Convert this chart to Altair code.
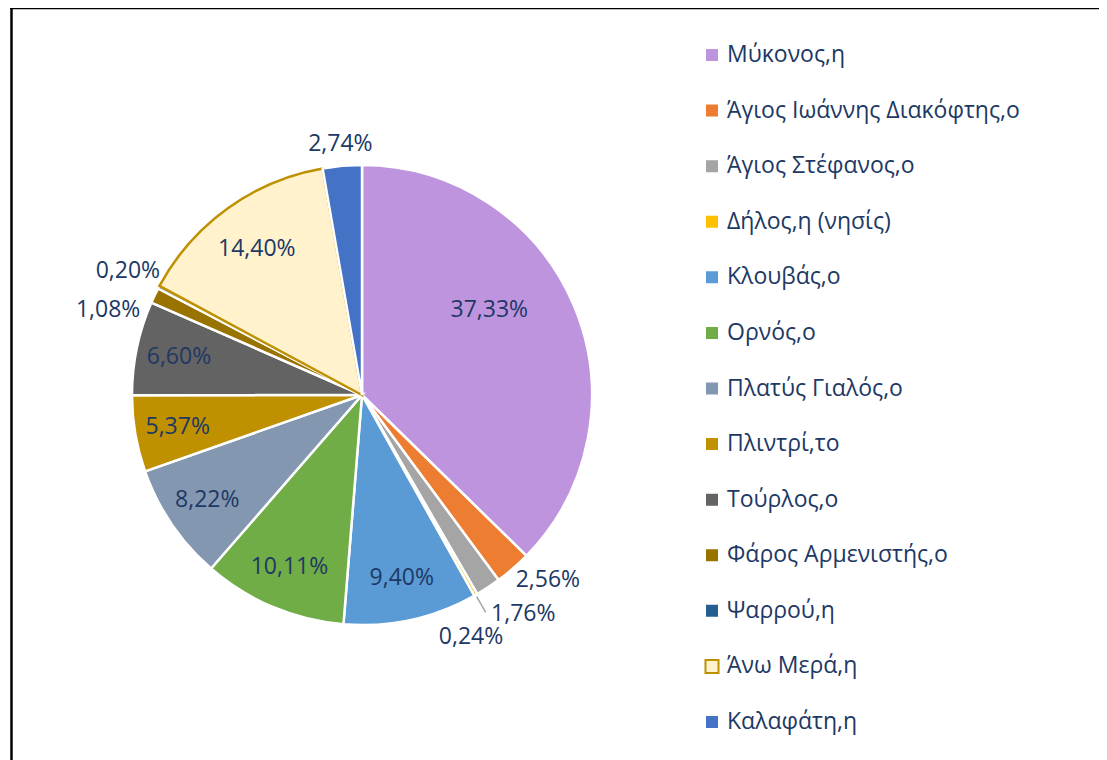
import altair as alt
import pandas as pd

categories = [
    "Μύκονος,η", "Άγιος Ιωάννης Διακόφτης,ο", "Άγιος Στέφανος,ο", "Δήλος,η (νησίς)",
    "Κλουβάς,ο", "Ορνός,ο", "Πλατύς Γιαλός,ο", "Πλιντρί,το", "Τούρλος,ο",
    "Φάρος Αρμενιστής,ο", "Ψαρρού,η", "Άνω Μερά,η", "Καλαφάτη,η",
]
values = [37.33, 2.56, 1.76, 0.24, 9.40, 10.11, 8.22, 5.37, 6.60, 1.08, 0.20, 14.40, 2.74]

fills = ["#BE94DF", "#ED7D31", "#A5A5A5", "#FFC000", "#5B9BD5", "#70AD47", "#8497B0",
         "#BF9000", "#636363", "#997300", "#255E91", "#FFF2CC", "#4472C4"]
slice_strokes = ["white"] * 11 + ["#BF9000", "white"]
legend_strokes = fills[:11] + ["#BF9000", fills[12]]
legend_sizes = [100] * 11 + [170, 100]

TEXT = "#203864"
FONT = "Open Sans"
FS = 23
CX, CY, R = 354, 387, 230

df = pd.DataFrame({"cat": categories, "value": values})
df["idx"] = range(len(df))
df["end"] = df["value"].cumsum()
df["start"] = df["end"] - df["value"]
df["mid"] = (df["start"] + df["end"]) / 2
df["label"] = [f"{v:.2f}".replace(".", ",") + "%" for v in values]
df["fill"] = fills
df["sstroke"] = slice_strokes
df["lstroke"] = legend_strokes
df["lsize"] = legend_sizes
total = float(df["end"].iloc[-1])

theta_scale = alt.Scale(domain=[0, total], range=[0, 6.283185307179586], zero=True)
base = alt.Chart(df)

pie = base.mark_arc(outerRadius=R, strokeWidth=2.5).encode(
    theta=alt.Theta("start:Q", scale=theta_scale),
    theta2="end:Q",
    fill=alt.Fill("fill:N", scale=None),
    stroke=alt.Stroke("sstroke:N", scale=None),
    x=alt.value(CX), y=alt.value(CY),
)

leader = base.mark_arc(radius=232, radius2=250, stroke="#A6A6A6", strokeWidth=1.5,
                       fillOpacity=0).encode(
    theta=alt.Theta("mid:Q", scale=theta_scale),
    theta2="mid:Q",
    x=alt.value(CX), y=alt.value(CY),
).transform_filter(alt.datum.cat == "Δήλος,η (νησίς)")


def labels(cats, radius, dx=0, dy=0):
    return base.mark_text(radius=radius, dx=dx, dy=dy, font=FONT, fontSize=FS,
                          color=TEXT, align="center", baseline="middle").encode(
        theta=alt.Theta("mid:Q", scale=theta_scale),
        text="label:N",
        x=alt.value(CX), y=alt.value(CY),
    ).transform_filter(alt.FieldOneOfPredicate(field="cat", oneOf=cats))


label_layers = [
    labels(["Κλουβάς,ο", "Ορνός,ο", "Πλατύς Γιαλός,ο", "Πλιντρί,το", "Τούρλος,ο"], 187),
    labels(["Άνω Μερά,η"], 180),
    labels(["Μύκονος,η"], 150, -11, -27),
    labels(["Ψαρρού,η"], 265),
    labels(["Καλαφάτη,η"], 252),
    labels(["Φάρος Αρμενιστής,ο"], 265, -15, 30),
    labels(["Άγιος Ιωάννης Διακόφτης,ο"], 265, 12, -15),
    labels(["Άγιος Στέφανος,ο"], 265, 16, -3),
    labels(["Δήλος,η (νησίς)"], 265, -22, 12),
]

yscale = alt.Scale(type="point", domain=categories, range=[47, 714], padding=0)

leg_sq = base.mark_square(strokeWidth=2, opacity=1).encode(
    x=alt.value(704),
    y=alt.Y("cat:N", scale=yscale, axis=None),
    fill=alt.Fill("fill:N", scale=None),
    stroke=alt.Stroke("lstroke:N", scale=None),
    size=alt.Size("lsize:Q", scale=None),
)
leg_tx = base.mark_text(align="left", baseline="middle", font=FONT, fontSize=FS,
                        color=TEXT).encode(
    x=alt.value(719),
    y=alt.Y("cat:N", scale=yscale, axis=None),
    text="cat:N",
)

frame_left = alt.Chart(df.head(1)).mark_rule(color="black", strokeWidth=2.5).encode(
    x=alt.value(3.5), y=alt.value(0), y2=alt.value(760))
frame_top = alt.Chart(df.head(1)).mark_rule(color="black", strokeWidth=2.5).encode(
    x=alt.value(2), x2=alt.value(1100), y=alt.value(0))

chart = alt.layer(pie, leader, *label_layers, leg_sq, leg_tx, frame_left, frame_top).properties(
    width=1091, height=752, padding=0, autosize="none", background="white"
).configure_view(stroke=None)

chart.save("out.html", embed_options={"renderer": "svg", "actions": False})
